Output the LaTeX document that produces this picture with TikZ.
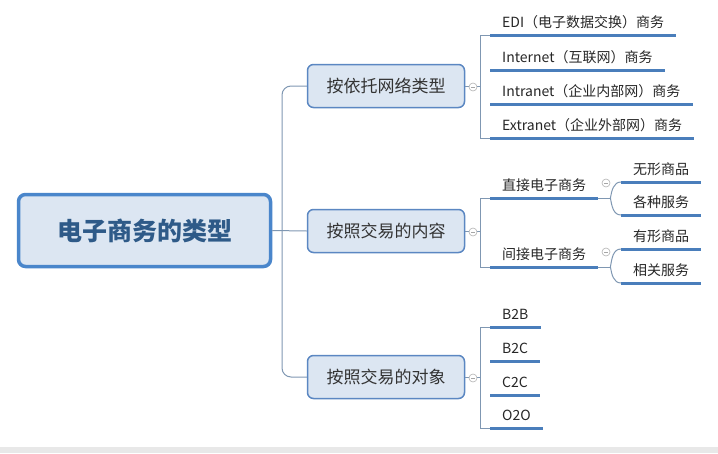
\documentclass[tikz,border=0pt]{standalone}
\usepackage{fontspec}
\newfontfamily\cjk{Noto Sans CJK SC}
\definecolor{boxfill}{HTML}{DCE6F2}
\definecolor{boxline}{HTML}{5B87C2}
\definecolor{rootline}{HTML}{4A86CB}
\definecolor{roottext}{HTML}{2E5A88}
\definecolor{uline}{HTML}{4A7EBB}
\definecolor{connline}{HTML}{7F97B2}
\definecolor{band}{HTML}{E8E8E8}
\tikzset{
  rootbox/.style = {draw=rootline, line width=3.5pt, fill=boxfill, rounded corners=7pt,
    minimum width=252pt, minimum height=72pt, text=roottext,
    font=\cjk\bfseries\fontsize{25}{25}\selectfont},
  kindbox/.style = {draw=boxline, line width=1.5pt, fill=boxfill, rounded corners=6pt,
    minimum width=157pt, minimum height=43pt, text=black!80,
    font=\cjk\fontsize{17}{17}\selectfont},
  leaf/.style = {anchor=south west, inner xsep=12pt, inner ysep=0pt,
    text height=12pt, text depth=7pt, text=black!85,
    font=\cjk\fontsize{14}{14}\selectfont},
  conn/.style = {draw=connline, line width=1pt},
  under/.style = {draw=uline, line width=3pt},
  fold/.style = {circle, draw=black!30, fill=white, line width=0.6pt,
    inner sep=0pt, minimum size=8pt},
}
\begin{document}
\begin{tikzpicture}[x=1pt, y=-1pt]
      \useasboundingbox (0,0) rectangle (718,453);
      \fill[band] (0,447) rectangle (718,453);

      % root and the three kinds
      \node[rootbox] (root) at (144.5,230.5) {电子商务的类型};
      \node[kindbox] (net) at (386,86) {按依托网络类型};
      \node[kindbox] (cont) at (386,231) {按照交易的内容};
      \node[kindbox] (obj) at (386,377) {按照交易的对象};

      \draw[conn, rounded corners=9pt] (net.west) -- (282,86) -- (282,377) -- (obj.west);
      \draw[conn] (root.east) -- (cont.west);

      % by network
      \node[leaf] (edi) at (490,35) {EDI（电子数据交换）商务};
      \node[leaf] (inet) at (490,70) {Internet（互联网）商务};
      \node[leaf] (intra) at (490,104) {Intranet（企业内部网）商务};
      \node[leaf] (extra) at (490,138) {Extranet（企业外部网）商务};
      \foreach \n in {edi,inet,intra,extra}
        \draw[under] (\n.south west) -- (\n.south east);
      \draw[conn] (edi.south west) -- ++(-10,0) |- (extra.south west);
      \draw[conn] (net.east) -- (480,86);
      \node[fold] (f1) at (473,87) {};
      \draw[black!35, line width=0.5pt] (f1.center) ++(-2,0) -- ++(4,0);

      % by content
      \node[leaf] (direct) at (490,198) {直接电子商务};
      \node[leaf] (indirect) at (490,267) {间接电子商务};
      \node[leaf] (virt) at (621,182) {无形商品};
      \node[leaf] (serv) at (621,215) {各种服务};
      \node[leaf] (real) at (621,249) {有形商品};
      \node[leaf] (rel) at (621,283) {相关服务};
      \foreach \n in {direct,indirect,virt,serv,real,rel}
        \draw[under] (\n.south west) -- (\n.south east);
      \draw[conn] (direct.south west) -- ++(-10,0) |- (indirect.south west);
      \draw[conn] (cont.east) -- (480,231);
      \node[fold] (f2) at (473,232) {};
      \draw[black!35, line width=0.5pt] (f2.center) ++(-2,0) -- ++(4,0);

      \draw[conn] (direct.south east) -- ++(12,0) coordinate (k1);
      \draw[conn] (k1) to[out=80, in=180] (virt.south west);
      \draw[conn] (k1) to[out=-80, in=180] (serv.south west);
      \draw[conn] (indirect.south east) -- ++(12,0) coordinate (k2);
      \draw[conn] (k2) to[out=80, in=180] (real.south west);
      \draw[conn] (k2) to[out=-80, in=180] (rel.south west);
      \node[fold] (f3) at (606,183) {};
      \draw[black!35, line width=0.5pt] (f3.center) ++(-2,0) -- ++(4,0);
      \node[fold] (f4) at (606,252) {};
      \draw[black!35, line width=0.5pt] (f4.center) ++(-2,0) -- ++(4,0);

      % by party
      \node[leaf] (bb) at (490,327) {B2B};
      \node[leaf] (bc) at (490,361) {B2C};
      \node[leaf] (cc) at (490,395) {C2C};
      \node[leaf] (oo) at (490,428) {O2O};
      \foreach \n in {bb,bc,cc,oo}
        \draw[under] (\n.south west) -- (\n.south east);
      \draw[conn] (bb.south west) -- ++(-10,0) |- (oo.south west);
      \draw[conn] (obj.east) -- (480,377);
      \node[fold] (f5) at (473,378) {};
      \draw[black!35, line width=0.5pt] (f5.center) ++(-2,0) -- ++(4,0);
    \end{tikzpicture}
\end{document}
